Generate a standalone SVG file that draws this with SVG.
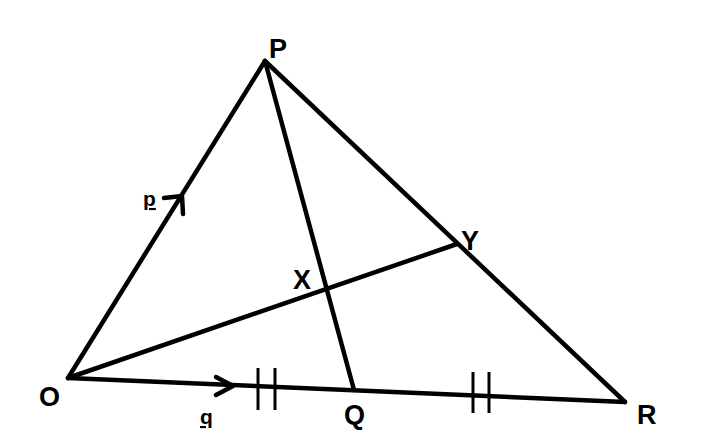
<svg xmlns="http://www.w3.org/2000/svg" width="704" height="441" viewBox="0 0 704 441">
<style>
.ln{stroke:#000;stroke-width:4.5;fill:none;stroke-linecap:round;stroke-linejoin:round}
.tk{stroke:#000;stroke-width:3;fill:none}
.lb{font-family:"Liberation Sans",Arial,sans-serif;font-weight:bold;font-size:27px;fill:#000}
.vl{font-family:"Liberation Sans",Arial,sans-serif;font-weight:bold;font-size:21px;fill:#000;text-decoration:underline}
</style>
<rect width="704" height="441" fill="#fff"/>
<g id="connectors">
<line class="ln" x1="68" y1="378" x2="265" y2="61"/>
<line class="ln" x1="265" y1="61" x2="625" y2="402"/>
<line class="ln" x1="68" y1="378" x2="625" y2="402"/>
<line class="ln" x1="265" y1="61" x2="354" y2="390"/>
<line class="ln" x1="68" y1="378" x2="457" y2="244"/>
<polyline class="ln" points="164,198 182,196 183,214"/>
<polyline class="ln" points="216,377 233,386 216,395"/>
<line class="tk" x1="258" y1="368" x2="258" y2="410"/>
<line class="tk" x1="275" y1="368" x2="275" y2="410"/>
<line class="tk" x1="473" y1="372" x2="473" y2="413"/>
<line class="tk" x1="489" y1="372" x2="489" y2="413"/>
</g>
<g id="P"><text class="lb" x="269" y="58">P</text></g>
<g id="O"><text class="lb" x="39" y="406">O</text></g>
<g id="Q"><text class="lb" x="344" y="424">Q</text></g>
<g id="R"><text class="lb" x="637" y="424">R</text></g>
<g id="X"><text class="lb" x="293" y="289">X</text></g>
<g id="Y"><text class="lb" x="461" y="250">Y</text></g>
<g id="p"><text class="vl" x="143" y="206">p</text></g>
<g id="q"><text class="vl" x="200" y="424">q</text></g>
</svg>
